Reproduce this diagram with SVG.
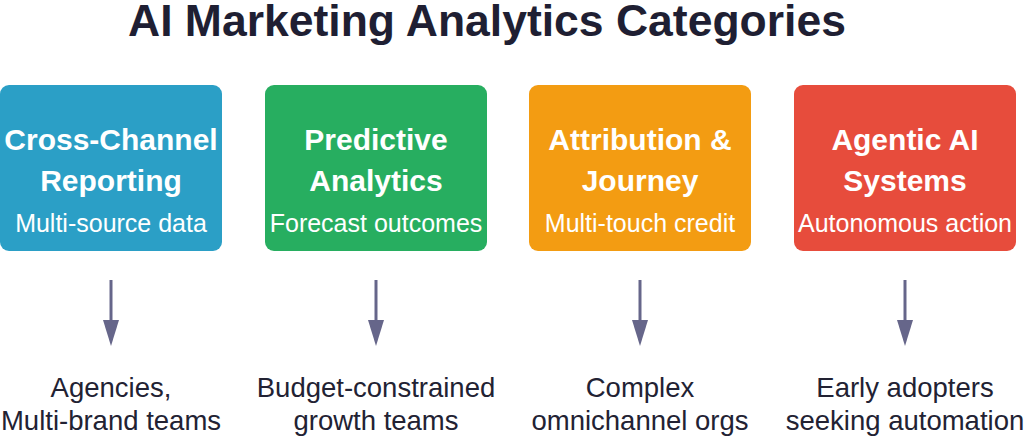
<svg xmlns="http://www.w3.org/2000/svg" width="1024" height="437" viewBox="0 0 1024 437">
<style>
.title{font-family:"Liberation Sans",Arial,sans-serif;font-weight:bold;font-size:44.5px;fill:#1f1f33;text-anchor:middle}
.h{font-family:"Liberation Sans",Arial,sans-serif;font-weight:bold;font-size:30px;fill:#fff;text-anchor:middle}
.s{font-family:"Liberation Sans",Arial,sans-serif;font-size:25px;fill:#fff;text-anchor:middle}
.b{font-family:"Liberation Sans",Arial,sans-serif;font-size:27.5px;fill:#222233;text-anchor:middle}
.c{stroke:#66668a;stroke-width:3;fill:none}
</style>
<rect width="1024" height="437" fill="#fff"/>
<text class="title" x="487" y="36">AI Marketing Analytics Categories</text>
<g id="node1">
<rect x="0" y="85" width="222" height="166" rx="9" fill="#2b9fc6"/>
<text class="h" x="111" y="150">Cross-Channel</text>
<text class="h" x="111" y="191">Reporting</text>
<text class="s" x="111" y="232">Multi-source data</text>
</g>
<g id="node2">
<rect x="265" y="85" width="222" height="166" rx="9" fill="#27ae60"/>
<text class="h" x="376" y="150">Predictive</text>
<text class="h" x="376" y="191">Analytics</text>
<text class="s" x="376" y="232">Forecast outcomes</text>
</g>
<g id="node3">
<rect x="529" y="85" width="222" height="166" rx="9" fill="#f39c12"/>
<text class="h" x="640" y="150">Attribution &amp;</text>
<text class="h" x="640" y="191">Journey</text>
<text class="s" x="640" y="232">Multi-touch credit</text>
</g>
<g id="node4">
<rect x="794" y="85" width="222" height="166" rx="9" fill="#e74c3c"/>
<text class="h" x="905" y="150">Agentic AI</text>
<text class="h" x="905" y="191">Systems</text>
<text class="s" x="905" y="232">Autonomous action</text>
</g>
<g id="connectors">
<g fill="#66668a">
<line class="c" x1="111" y1="280" x2="111" y2="322"/>
<path d="M103,320 L119,320 L111,346 Z"/>
<line class="c" x1="376" y1="280" x2="376" y2="322"/>
<path d="M368,320 L384,320 L376,346 Z"/>
<line class="c" x1="640" y1="280" x2="640" y2="322"/>
<path d="M632,320 L648,320 L640,346 Z"/>
<line class="c" x1="905" y1="280" x2="905" y2="322"/>
<path d="M897,320 L913,320 L905,346 Z"/>
</g>
</g>
<g id="label1"><text class="b" x="111" y="397">Agencies,</text><text class="b" x="111" y="430">Multi-brand teams</text></g>
<g id="label2"><text class="b" x="376" y="397">Budget-constrained</text><text class="b" x="376" y="430">growth teams</text></g>
<g id="label3"><text class="b" x="640" y="397">Complex</text><text class="b" x="640" y="430">omnichannel orgs</text></g>
<g id="label4"><text class="b" x="905" y="397">Early adopters</text><text class="b" x="905" y="430">seeking automation</text></g>
</svg>
